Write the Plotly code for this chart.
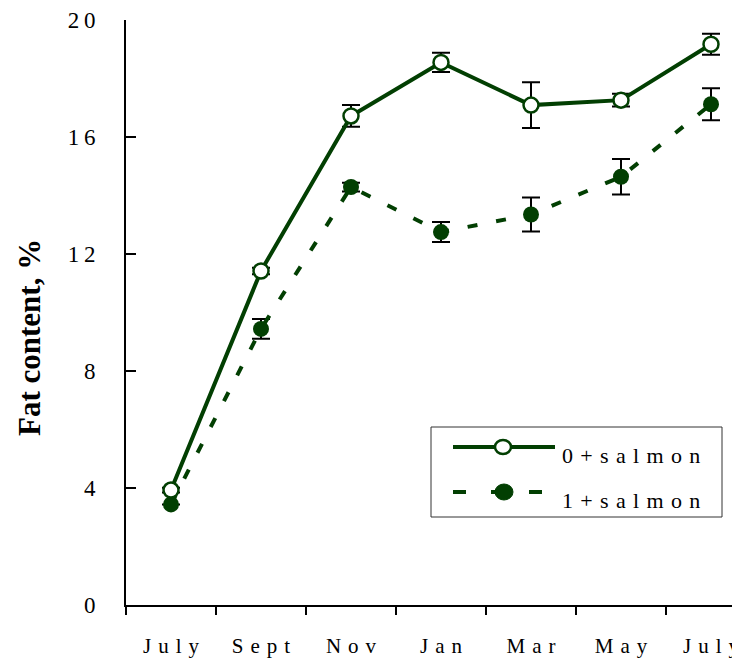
import plotly.graph_objects as go

# data
months = ["July", "Sept", "Nov", "Jan", "Mar", "May", "July"]
fat_0plus = [3.93, 11.42, 16.72, 18.55, 17.09, 17.26, 19.17]
err_0plus = [0.08, 0.11, 0.37, 0.33, 0.78, 0.22, 0.36]
fat_1plus = [3.44, 9.44, 14.29, 12.75, 13.35, 14.64, 17.12]
err_1plus = [0.0, 0.34, 0.15, 0.34, 0.58, 0.61, 0.55]
y_ticks = [0, 4, 8, 12, 16, 20]

GREEN = "#023f02"
SERIF = "Liberation Serif, Times New Roman, serif"
SP = "\u2004"  # letter spacing like the original print


def spaced(s, sp=SP):
    return sp.join(list(s))


# page has an 8px body margin, so the figure is drawn 8px smaller
OFF = 8
W, H = 740 - OFF, 659 - OFF
# plot area in page pixels: x 126..740, y 20..605
L, R, T, B = 126, 740, 20, 605


def px(x):
    return (x - L) / (R - L)


def py(y):
    return (B - y) / (B - T)


xs = list(range(len(months)))

fig = go.Figure()

fig.add_trace(go.Scatter(
    x=xs, y=fat_1plus, mode="lines+markers", name="1+salmon",
    line=dict(color=GREEN, width=4, dash="10px,19px"),
    marker=dict(symbol="circle", size=16, color=GREEN),
    error_y=dict(type="data", array=err_1plus, color="black", thickness=2, width=9),
    showlegend=False,
))
fig.add_trace(go.Scatter(
    x=xs, y=fat_0plus, mode="lines+markers", name="0+salmon",
    line=dict(color=GREEN, width=4),
    marker=dict(symbol="circle", size=15, color="white", line=dict(color=GREEN, width=2.5)),
    error_y=dict(type="data", array=err_0plus, color="black", thickness=2, width=9),
    showlegend=False,
))

# hand-drawn legend box to match the long line samples of the original
shapes = [
    dict(type="rect", xref="paper", yref="paper", x0=px(431), x1=px(722), y0=py(517), y1=py(427),
         line=dict(color="#333333", width=1), fillcolor="white", layer="below"),
    dict(type="line", xref="paper", yref="paper", x0=px(453), x1=px(555), y0=py(447), y1=py(447),
         line=dict(color=GREEN, width=4)),
    dict(type="line", xref="paper", yref="paper", x0=px(453), x1=px(555), y0=py(492), y1=py(492),
         line=dict(color=GREEN, width=4, dash="13px,25px")),
    dict(type="circle", xref="paper", yref="paper", xsizemode="pixel", ysizemode="pixel",
         xanchor=px(503), yanchor=py(447), x0=-8, x1=8, y0=-7, y1=7,
         fillcolor="white", line=dict(color=GREEN, width=2.5)),
    dict(type="circle", xref="paper", yref="paper", xsizemode="pixel", ysizemode="pixel",
         xanchor=px(504), yanchor=py(492), x0=-9, x1=9, y0=-8, y1=8,
         fillcolor=GREEN, line=dict(color=GREEN, width=1)),
]

annotations = [
    dict(text=spaced("0+salmon"), xref="paper", yref="paper", x=px(560), y=py(455),
         xanchor="left", yanchor="middle", showarrow=False,
         font=dict(family=SERIF, size=22, color="black")),
    dict(text=spaced("1+salmon"), xref="paper", yref="paper", x=px(560), y=py(500),
         xanchor="left", yanchor="middle", showarrow=False,
         font=dict(family=SERIF, size=22, color="black")),
    dict(text="<b>Fat content, %</b>", xref="paper", yref="paper", x=px(29), y=py(338),
         xanchor="center", yanchor="middle", textangle=-90, showarrow=False,
         font=dict(family=SERIF, size=31, color="black")),
]

fig.update_layout(
    width=W, height=H,
    margin=dict(l=L - OFF, r=0, t=T - OFF, b=H - (B - OFF)),
    plot_bgcolor="white", paper_bgcolor="white",
    shapes=shapes, annotations=annotations,
    showlegend=False,
    font=dict(family=SERIF, color="black"),
)

fig.update_xaxes(
    range=[-0.5, -0.5 + (R - L) / 90],
    tickmode="array", tickvals=xs, ticktext=[spaced(m) for m in months],
    ticks="", showgrid=False, zeroline=False,
    showline=True, linecolor="black", linewidth=2,
    tickfont=dict(family=SERIF, size=21, color="black"),
    ticklabelstandoff=21,
    minor=dict(tickmode="array", tickvals=[i - 0.5 for i in xs], ticks="outside",
               ticklen=8, tickwidth=2, tickcolor="black", showgrid=False),
    automargin=False, fixedrange=True,
)
fig.update_yaxes(
    range=[0, 20],
    tickmode="array", tickvals=y_ticks, ticktext=[spaced(str(v), "\u2009") for v in y_ticks],
    ticks="inside", ticklen=10, tickwidth=2, tickcolor="black",
    showgrid=False, zeroline=False,
    showline=True, linecolor="black", linewidth=2,
    tickfont=dict(family=SERIF, size=23, color="black"),
    ticklabelstandoff=24,
    automargin=False, fixedrange=True,
)

fig.write_html("out.html")
